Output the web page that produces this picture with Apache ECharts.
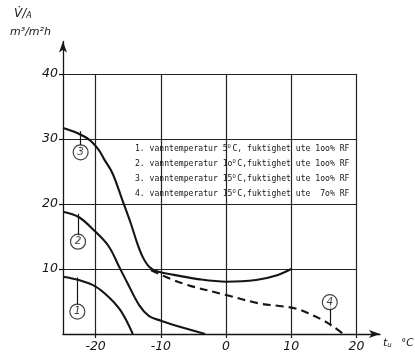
<!DOCTYPE html>
<html><head><meta charset="utf-8">
<script src="https://cdn.jsdelivr.net/npm/echarts@6/dist/echarts.min.js"></script>
<style>html,body{margin:0;padding:0;background:#fff}#c{width:415px;height:355px}</style>
</head><body><div id="c"></div>
<script>
// ---- data ----
const xTicks = [-20, -10, 0, 10, 20];
const yTicks = [10, 20, 30, 40];
const xMin = -25, xGridMax = 20, yGridMax = 40;

const curve1 = [[-25, 8.8], [-22.6, 8.3], [-20, 7.3], [-18, 5.7], [-16.4, 3.95], [-15.4, 2.3], [-14.3, 0]];
const curve2 = [[-25, 18.8], [-22.6, 18.0], [-20.3, 16.0], [-18, 13.5], [-16.4, 10.35], [-15.2, 8.0], [-13.3, 4.4], [-11.8, 2.75], [-10, 2.05], [-6.7, 1.0], [-3.2, 0]];
const curve3 = [[-25, 31.7], [-23, 31.0], [-21, 29.9], [-19.5, 28.3], [-18.7, 26.9], [-17.4, 24.7], [-15.9, 20.6], [-14.6, 17.0], [-13.6, 13.9], [-12.8, 11.9], [-11.8, 10.35], [-10.5, 9.6], [-8, 9.1], [-4, 8.4], [0, 8.05], [4.6, 8.3], [7.7, 9.0], [10, 10.0]];
const curve4 = [[-11.5, 9.8], [-6.7, 7.8], [0, 6.0], [5.1, 4.7], [8.2, 4.3], [10.8, 3.9], [13, 3.0], [14.9, 2.1], [16.5, 1.1], [18, 0]];

const curveNames = ['1', '2', '3', '4'];
const labelPos = [[-22.8, 3.45], [-22.7, 14.2], [-22.3, 27.95], [15.9, 4.9]];
const leaderEnds = [[-22.8, 8.7], [-22.7, 18.5], [-22.3, 31.2], [15.9, 1.2]];

const legendLines = [
  '1. vanntemperatur 5{s|O}C, fuktighet ute 1oo% RF',
  '2. vanntemperatur 1o{s|O}C,fuktighet ute 1oo% RF',
  '3. vanntemperatur 15{s|O}C,fuktighet ute 1oo% RF',
  '4. vanntemperatur 15{s|O}C,fuktighet ute  7o% RF'
];
const legendBox = [[-17.3, 20], [20, 30]];

// ---- chart ----
const ink = '#151515';
const chart = echarts.init(document.getElementById('c'), null, {renderer: 'canvas'});
const gridLine = {color: '#222', width: 1.2, type: 'solid'};
const mlBase = {silent: true, symbol: ['none', 'none'], label: {show: false}, lineStyle: gridLine, animation: false, emphasis: {disabled: true}};

const innerVertical = xTicks.filter(x => x !== xGridMax).map(x => [{coord: [x, 0]}, {coord: [x, yGridMax]}]);
const outerLines = yTicks.map(y => [{coord: [xMin, y]}, {coord: [xGridMax, y]}])
  .concat([[{coord: [xGridMax, 0]}, {coord: [xGridMax, yGridMax]}]]);

const curveStyle = {color: ink, width: 2.1};
function curveSeries(data, dashed) {
  return {type: 'line', data: data, smooth: 0.35, showSymbol: false, symbol: 'none', z: 5,
    lineStyle: Object.assign({}, curveStyle, dashed ? {type: [8, 5]} : {}), silent: true, animation: false};
}

const option = {
  backgroundColor: '#fff',
  animation: false,
  grid: {left: 63, right: 35, top: 41.5, bottom: 21, containLabel: false},
  xAxis: {
    type: 'value', min: xMin, max: 23.6,
    axisLine: {show: true, onZero: false, symbol: ['none', 'arrow'], symbolSize: [6, 11], lineStyle: {color: ink, width: 1.3}},
    axisTick: {show: true, customValues: xTicks, length: 4, lineStyle: {color: ink, width: 1.2}},
    axisLabel: {customValues: xTicks, color: ink, fontFamily: 'DejaVu Sans', fontStyle: 'italic', fontSize: 12.5, margin: 6,
      formatter: v => String(v)},
    splitLine: {show: false}
  },
  yAxis: {
    type: 'value', min: 0, max: 45,
    axisLine: {show: true, onZero: false, symbol: ['none', 'arrow'], symbolSize: [6, 11], lineStyle: {color: ink, width: 1.3}},
    axisTick: {show: true, customValues: yTicks, length: 4, lineStyle: {color: ink, width: 1.2}},
    axisLabel: {customValues: yTicks, color: ink, fontFamily: 'DejaVu Sans', fontStyle: 'italic', fontSize: 12.5, margin: 5},
    splitLine: {show: false}
  },
  series: [
    {type: 'line', data: [], z: 1, markLine: Object.assign({}, mlBase, {data: innerVertical})},
    {type: 'line', data: [], z: 2, markArea: {silent: true, itemStyle: {color: '#fff'}, label: {show: false},
      data: [[{coord: legendBox[0]}, {coord: legendBox[1]}]]}},
    {type: 'line', data: [], z: 3, markLine: Object.assign({}, mlBase, {data: outerLines})},
    curveSeries(curve1, false),
    curveSeries(curve2, false),
    curveSeries(curve3, false),
    curveSeries(curve4, true),
    {type: 'line', data: [], z: 6, markLine: Object.assign({}, mlBase, {
      lineStyle: {color: ink, width: 1.2, type: 'solid'},
      data: labelPos.map((p, i) => [{coord: p}, {coord: leaderEnds[i]}])})},
    {type: 'scatter', z: 7, silent: true, symbol: 'circle', symbolSize: 15,
      itemStyle: {color: '#fff', borderColor: ink, borderWidth: 1.2},
      data: labelPos.map((p, i) => ({value: p, name: curveNames[i]})),
      label: {show: true, position: 'inside', formatter: p => p.name, color: ink,
        fontFamily: 'DejaVu Sans', fontStyle: 'italic', fontSize: 10.5}}
  ],
  graphic: [
    {type: 'text', left: 14, top: 8, style: {text: '{v|V̇}{s|/}{a|A}', rich: {
      v: {fontFamily: 'DejaVu Sans', fontStyle: 'italic', fontSize: 12, fill: ink},
      s: {fontFamily: 'DejaVu Sans', fontStyle: 'italic', fontSize: 12, fill: ink},
      a: {fontFamily: 'DejaVu Sans', fontStyle: 'italic', fontSize: 8, fill: ink, padding: [4, 0, 0, 0]}}}},
    {type: 'text', left: 10, top: 27, style: {text: 'm³/m²h', fontFamily: 'DejaVu Sans', fontStyle: 'italic', fontSize: 11, fill: ink}},
    {type: 'text', left: 383, top: 338, style: {text: '{t|t}{u|u}', rich: {
      t: {fontFamily: 'DejaVu Sans', fontStyle: 'italic', fontSize: 11, fill: ink},
      u: {fontFamily: 'DejaVu Sans', fontStyle: 'italic', fontSize: 7, fill: ink, padding: [4, 0, 0, 0]}}}},
    {type: 'text', left: 401, top: 338, style: {text: '°C', fontFamily: 'DejaVu Sans', fontStyle: 'italic', fontSize: 10.5, fill: ink}}
  ].concat(legendLines.map((t, i) => ({
    type: 'text', left: 135, top: 144 + i * 15, z: 10,
    style: {text: t, fontFamily: 'DejaVu Sans Mono', fontSize: 8.1, fill: ink,
      rich: {s: {fontFamily: 'DejaVu Sans Mono', fontSize: 5.5, fill: ink, width: 4.9, padding: [0, 0, 3, 0]}}}
  })))
};
chart.setOption(option);
</script></body></html>
